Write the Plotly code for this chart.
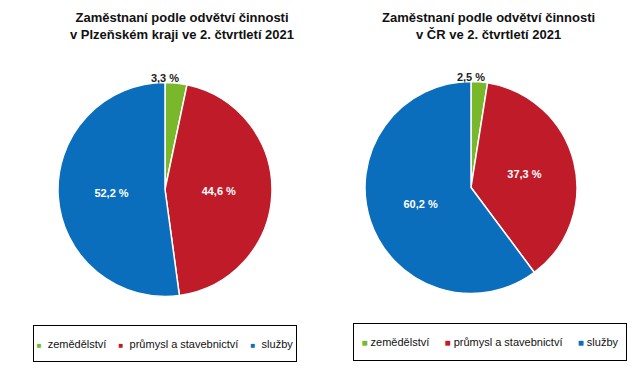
import plotly.graph_objects as go

categories = ["zemědělství", "průmysl a stavebnictví", "služby"]
plzen_values = [3.3, 44.6, 52.2]
cr_values = [2.5, 37.3, 60.2]
titles = ["Zaměstnaní podle odvětví činnosti<br>v Plzeňském kraji ve 2. čtvrtletí 2021",
          "Zaměstnaní podle odvětví činnosti<br>v ČR ve 2. čtvrtletí 2021"]
colors = ["#79b82b", "#bf1b28", "#0a6ebd"]

W, H = 642, 379
FONT = "Liberation Sans, Arial, sans-serif"
TITLE_H = 13  # room taken by the small-slice label placed above each pie


def dom(cx, cy, r):
    return dict(x=[(cx - r) / W, (cx + r) / W],
                y=[1 - (cy + r) / H, 1 - (cy - r - TITLE_H) / H])


def fmt(v):
    return f"{v:.1f}".replace(".", ",") + " %"


fig = go.Figure()
for vals, d in [(plzen_values, dom(165, 190, 107)), (cr_values, dom(471, 188, 106))]:
    fig.add_trace(go.Pie(
        labels=categories, values=vals, sort=False, direction="clockwise", rotation=0,
        marker=dict(colors=colors, line=dict(color="white", width=1.5)),
        texttemplate="%{value:.1f} %", textinfo="value",
        textposition=["none", "inside", "inside"],
        insidetextorientation="horizontal",
        insidetextfont=dict(color="white", size=11, family=FONT, weight="bold"),
        title=dict(text=fmt(vals[0]), position="top center",
                   font=dict(color="#222222", size=11, family=FONT, weight="bold")),
        domain=d, showlegend=False, hoverinfo="label+value",
    ))

annotations = []
for t, cx in zip(titles, [182, 488]):
    annotations.append(dict(text=t, x=cx / W, y=1 - 8 / H, xref="paper", yref="paper",
                            xanchor="center", yanchor="top", showarrow=False,
                            font=dict(size=13, family=FONT, color="#111111", weight="bold"),
                            align="center"))


def legend_text(msize, gap_in, gap_out):
    parts = []
    for c, lab in zip(colors, categories):
        parts.append(f'<span style="color:{c};font-size:{msize}px">■</span>'
                     + "\u00a0" * gap_in + lab)
    return ("\u00a0" * gap_out).join(parts)


for (cx, cy, bw, bh, msize, gi, go_) in [(165, 343.5, 264, 37, 8, 2, 4),
                                         (490, 342, 274, 38, 10, 1, 5)]:
    annotations.append(dict(
        text=legend_text(msize, gi, go_), x=cx / W, y=1 - cy / H, xref="paper", yref="paper",
        xanchor="center", yanchor="middle", showarrow=False, align="center",
        width=bw - 2, height=bh - 2, borderpad=0, bordercolor="black", borderwidth=1,
        bgcolor="white", valign="middle",
        font=dict(size=11, family=FONT, color="#111111"),
    ))

fig.update_layout(
    width=W, height=H, margin=dict(l=0, r=0, t=0, b=0),
    paper_bgcolor="white", plot_bgcolor="white",
    separators=", ",
    annotations=annotations,
    showlegend=False,
    font=dict(family=FONT),
)
fig.write_html("out.html", config={"displayModeBar": False},
               post_script="document.body.style.margin='0';")
